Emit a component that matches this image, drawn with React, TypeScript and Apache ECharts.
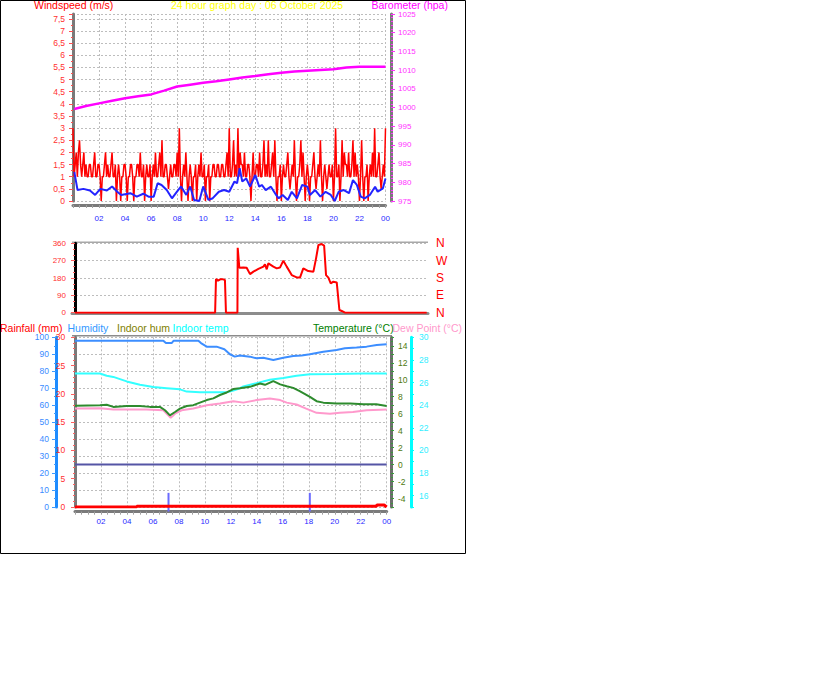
import React, { useEffect, useRef } from 'react';
import * as echarts from 'echarts';

const FONT = '"Liberation Sans", Arial, sans-serif';
const DOT = { color: '#bdbdbd', type: [2, 2] as number[], width: 1 };

// wind gust (m/s), 5 minute steps from 00:00
const GUST = [
  3, 1, 1.5, 2, 1, 2, 2.5, 1.5, 1, 1.5, 2, 1,
  1.5, 1, 1, 1.5, 1.5, 1, 1, 1.5, 2, 1, 1, 1.5,
  1.5, 1, 0, 1, 1, 1.5, 2, 1, 1.5, 1, 1, 1.5,
  2, 1, 1, 1.5, 0, 1, 1.5, 1, 0, 1, 1, 1.5,
  1.5, 1, 0, 1, 1, 1.5, 1.5, 1, 0, 1, 1, 1.5,
  1.5, 1, 2, 1, 1, 1.5, 0, 1, 1.5, 1, 1, 1.5,
  0, 1, 1.5, 1, 2, 1, 1, 1.5, 2, 1, 2.5, 1,
  1, 1.5, 1.5, 1, 0.5, 1, 1.5, 1, 1, 1.5, 1.5, 1,
  2, 1, 3, 1, 0, 1, 1.5, 1, 2, 1, 0, 1,
  1.5, 1, 0, 1, 1, 1.5, 0, 1, 1.5, 1, 2, 1,
  1, 1.5, 0, 1, 1, 1.5, 0, 1, 1, 1.5, 1.5, 1,
  1, 1.5, 1.5, 1, 1, 1.5, 1.5, 1, 1, 1.5, 2, 1,
  3, 1, 1, 1.5, 2.5, 1, 1.5, 1, 3, 1, 2, 1.5,
  1.5, 1, 2, 1, 1, 1.5, 1.5, 1, 0, 1, 2, 1,
  1, 1.5, 1.5, 1, 2, 1, 1, 1.5, 2.5, 1, 1.5, 1,
  2.5, 1, 1, 1.5, 2, 1, 2.5, 1, 0, 1, 1, 1.5,
  0, 1, 1.5, 1, 1, 1.5, 2, 1, 0.5, 1, 1.5, 1,
  2.5, 1, 0, 1, 1, 1.5, 2.5, 1, 2, 1, 0, 1,
  1.5, 1, 0, 1, 1, 1.5, 2, 1, 0.5, 1, 1.5, 1,
  2.5, 1, 0, 1, 1.5, 1, 0.5, 1, 1.5, 1, 1, 1.5,
  0, 1, 3, 1, 1, 1.5, 0, 1, 2.5, 1, 2, 1.5,
  1.5, 1, 2, 1, 1, 1.5, 2.5, 1, 2, 1, 1.5, 1,
  0, 1, 2.5, 1, 0, 1, 1, 1.5, 0, 1, 1.5, 1,
  2, 1, 3, 1, 1, 1.5, 2, 1, 0.5, 1, 1.5, 1,
  3,
];

// average wind (m/s)
const AVG_HOURS = [
  0.1, 0.35, 0.8, 1.3, 1.7, 2.1, 2.6, 3.0, 3.4, 3.7, 4.4, 4.9, 5.4, 5.8, 6.2, 6.5, 6.8, 7.2, 7.6, 7.9,
  8.3, 8.7, 9.0, 9.3, 9.7, 10.0, 10.4, 10.7, 11.2, 11.6, 12.0, 12.4, 12.6, 12.8, 13.0, 13.3, 13.6, 14.0,
  14.3, 14.5, 14.8, 15.2, 15.6, 15.8, 16.1, 16.5, 16.8, 17.2, 17.6, 18.0, 18.2, 18.6, 19.0, 19.4, 19.8,
  20.1, 20.4, 20.8, 21.2, 21.5, 21.8, 22.1, 22.4, 22.8, 23.2, 23.4, 23.8, 24.0,
];
const AVG_SPEED = [
  1.2, 0.45, 0.5, 0.43, 0.25, 0.5, 0.43, 0.6, 0.38, 0.25, 0.32, 0.18, 0.3, 0.18, 0.18, 0.73, 0.66, 0.45, 0.11, 0.32,
  0.6, 0.25, 0.6, 0.04, 0, 0.6, 0.05, 0.1, 0.38, 0.45, 0.38, 0.8, 0.73, 1.35, 0.8, 0.93, 0.59, 1.07,
  0.59, 0.66, 0.45, 0.59, 0.25, 0.11, 0.25, 0.04, 0.38, 0.11, 0.66, 0.59, 0.25, 0.45, 0.18, 0.38, 0.25,
  0, 0.38, 0.45, 0.32, 0.86, 0.66, 0.18, 0.11, 0.25, 0.59, 0.38, 0.52, 0.93,
];

// barometer (hpa)
const BARO_HOURS = [0.1, 1, 2, 3, 4, 5, 6, 7, 8, 9, 10, 11, 12, 13, 14, 15, 16, 17, 18, 19, 20, 21, 22, 23, 24];
const BARO_HPA = [
  999.6, 1000.4, 1001.1, 1001.8, 1002.5, 1003.0, 1003.5, 1004.5, 1005.6, 1006.1, 1006.6, 1007.0, 1007.5,
  1008.0, 1008.4, 1008.9, 1009.3, 1009.6, 1009.8, 1010.0, 1010.2, 1010.7, 1010.9, 1010.9, 1010.9,
];

// wind direction (deg)
const DIR_HOURS = [
  0, 9.55, 9.61, 9.75, 9.9, 10.1, 10.22, 10.29, 11.07, 11.09, 11.2, 11.47, 11.7, 11.93, 12.16, 12.5, 12.84,
  12.95, 13.07, 13.18, 13.52, 13.75, 13.97, 14.2, 14.43, 14.77, 15.11, 15.34, 15.56, 15.9, 16.25, 16.43,
  16.59, 16.82, 16.98, 17.11, 17.27, 17.43, 17.61, 17.84, 18.02, 18.18, 18.4, 23.97,
];
const DIR_DEG = [
  0, 0, 175, 166, 173, 173, 170, 0, 0, 337, 233, 235, 233, 200, 213, 227, 239,
  251, 225, 256, 239, 230, 234, 270, 239, 195, 183, 183, 230, 216, 213, 282,
  351, 356, 348, 195, 182, 152, 161, 157, 14, 9, 0, 0,
];
const DIR_NAMES = ['N', 'E', 'S', 'W', 'N'];

// humidity (%)
const HUM_HOURS = [
  0, 6.8, 7.0, 7.44, 7.6, 9.5, 9.7, 10.14, 10.9, 11.5, 11.93, 12.3, 12.7, 13.47, 13.99, 14.5, 15.27,
  16.04, 16.8, 17.45, 18.09, 19.12, 20.14, 20.78, 21.68, 22.45, 23.23, 24,
];
const HUM_PCT = [
  98, 98, 96.6, 96.6, 98, 98, 96.6, 94.5, 94.5, 93, 90, 88.6, 89.3, 88.6, 87.6, 88, 86.6,
  88, 89, 89.3, 90, 91.5, 92.5, 93.5, 94, 94.5, 95.5, 95.9,
];

// indoor temp (°C)
const INT_HOURS = [
  0, 1.92, 2.44, 2.95, 3.98, 5.0, 6.03, 7.06, 8.08, 8.6, 9.62, 11.68, 12.19, 12.7, 12.96, 13.99, 15.0,
  16.04, 17.06, 18.09, 20, 22.2, 24,
];
const INT_C = [
  26.8, 26.8, 26.6, 26.5, 26.1, 25.8, 25.6, 25.5, 25.4, 25.2, 25.15, 25.15, 25.3, 25.5, 25.65, 25.95, 26.24,
  26.4, 26.6, 26.74, 26.76, 26.8, 26.8,
];

// temperature (°C)
const TEMP_HOURS = [
  0, 1.92, 2.44, 2.95, 3.98, 5.0, 5.77, 6.54, 6.93, 7.31, 7.7, 8.08, 8.6, 9.11, 9.62, 10.14, 10.65, 11.16,
  11.68, 12.19, 12.7, 13.47, 14.25, 14.63, 15.27, 15.8, 16.3, 16.8, 17.3, 18.09, 18.6, 19.12, 20.14, 21.2,
  22.2, 23.2, 24,
];
const TEMP_C = [
  6.92, 7.0, 7.05, 6.8, 6.9, 6.9, 6.8, 6.8, 6.4, 5.8, 6.2, 6.6, 6.9, 7.0, 7.3, 7.6, 7.8, 8.2,
  8.5, 8.9, 9.0, 9.16, 9.56, 9.4, 9.84, 9.45, 9.24, 9.04, 8.65, 7.98, 7.47, 7.3, 7.2, 7.2,
  7.1, 7.1, 6.9,
];

// dew point (°C)
const DEW_HOURS = [
  0, 1.92, 2.95, 3.98, 5.5, 6.8, 7.18, 7.37, 7.7, 8.21, 9.11, 10.14, 11.16, 12.19, 12.96, 13.99, 15.0,
  15.8, 16.3, 17.06, 17.8, 18.6, 19.63, 20.4, 21.4, 22.45, 24,
];
const DEW_C = [
  6.6, 6.65, 6.5, 6.5, 6.5, 6.4, 5.8, 5.5, 6.0, 6.4, 6.6, 7.0, 7.2, 7.47, 7.3, 7.6, 7.8,
  7.6, 7.3, 7.08, 6.6, 6.1, 6.0, 6.1, 6.2, 6.4, 6.5,
];

// rainfall (mm)
const RAIN_HOURS = [0, 4.75, 4.76, 23.2, 23.25, 23.8, 24];
const RAIN_MM = [0, 0, 0.15, 0.15, 0.35, 0.35, 0];

// sunrise / sunset markers
const SUN_HOURS = [7.2, 18.08];

const pairs = (xs: number[], ys: number[]) => xs.map((x, i) => [x, ys[i]]);
const hourLabel = (v: number) => String(v % 24).padStart(2, '0');
const comma = (v: number) => String(v).replace('.', ',');
const plain = (v: number) => String(v);
const evenOnly = (v: number) => (v % 2 === 0 ? String(v) : '');

const tick = (color: string, length = 3) => ({ show: true, length, lineStyle: { color } });
const label = (color: string, margin: number, extra: any = {}) => ({
  color,
  fontSize: 8.5,
  fontFamily: FONT,
  margin,
  formatter: plain,
  ...extra,
});

const timeAxis = (gridIndex: number, offset: number, margin: number) => ({
  gridIndex,
  type: 'value',
  min: 0,
  max: 24,
  interval: 2,
  offset,
  axisLine: { show: true, onZero: false, lineStyle: { color: '#7a7a7a', width: 3 } },
  axisTick: tick('#a0a0a0'),
  minorTick: { show: true, splitNumber: 4, length: 3, lineStyle: { color: '#a0a0a0' } },
  axisLabel: label('#2a2aff', margin, { fontSize: 8, showMinLabel: false, formatter: hourLabel }),
  splitLine: { show: true, lineStyle: DOT },
});

const line = (x: number, y: number, data: number[][], color: string, width: number, extra: any = {}) => ({
  type: 'line',
  xAxisIndex: x,
  yAxisIndex: y,
  data,
  symbol: 'none',
  silent: true,
  lineStyle: { color, width },
  ...extra,
});

const text = (x: number, y: number, t: string, fill: string, fontSize = 10.5) => ({
  type: 'text',
  x,
  y,
  z: 10,
  style: { text: t, fill, fontSize, fontFamily: FONT, verticalAlign: 'middle' },
});

const option: any = {
  animation: false,
  backgroundColor: '#ffffff',
  grid: [
    { left: 73, top: 14, width: 312.5, height: 187 },
    { left: 72, top: 243.3, width: 356, height: 69.4 },
    { left: 75, top: 337.3, width: 311.7, height: 169.7 },
  ],
  xAxis: [
    timeAxis(0, 4, 9),
    {
      gridIndex: 1,
      type: 'value',
      min: -0.2045,
      max: 24.06,
      offset: 1,
      axisLine: { show: true, onZero: false, lineStyle: { color: '#8c8c8c', width: 3 } },
      axisTick: { show: false },
      axisLabel: { show: false },
      splitLine: { show: false },
    },
    timeAxis(2, 4.7, 6),
  ],
  yAxis: [
    {
      gridIndex: 0,
      type: 'value',
      position: 'left',
      min: 0,
      max: 7.7,
      interval: 0.5,
      offset: 2,
      axisLine: { show: true, lineStyle: { color: '#7a7a7a', width: 3 } },
      axisTick: tick('#ff5050', 4),
      minorTick: { show: true, splitNumber: 2, length: 2, lineStyle: { color: '#ff5050' } },
      axisLabel: label('#ff3030', 6, { showMaxLabel: false, formatter: comma }),
      splitLine: { show: true, lineStyle: DOT },
    },
    {
      gridIndex: 0,
      type: 'value',
      position: 'right',
      min: 975,
      max: 1025,
      interval: 5,
      offset: 5.5,
      axisLine: { show: true, lineStyle: { color: '#7a7a7a', width: 3 } },
      axisTick: tick('#ff33ff', 4),
      minorTick: { show: true, splitNumber: 5, length: 2, lineStyle: { color: '#ff33ff' } },
      axisLabel: label('#ff33ff', 7, { fontSize: 8 }),
      splitLine: { show: false },
    },
    {
      gridIndex: 1,
      type: 'value',
      position: 'left',
      min: 0,
      max: 360,
      interval: 90,
      axisLine: { show: true, lineStyle: { color: '#000000', width: 3 } },
      axisTick: tick('#ff6060', 4),
      minorTick: { show: true, splitNumber: 3, length: 2, lineStyle: { color: '#ff6060' } },
      axisLabel: label('#ff3030', 6, { fontSize: 8 }),
      splitLine: { show: true, lineStyle: DOT },
    },
    {
      gridIndex: 1,
      type: 'value',
      position: 'right',
      min: 0,
      max: 360,
      interval: 90,
      axisLine: { show: false },
      axisTick: { show: false },
      axisLabel: label('#ff0000', 8, { fontSize: 12, formatter: (v: number) => DIR_NAMES[v / 90] }),
      splitLine: { show: false },
    },
    {
      gridIndex: 2,
      type: 'value',
      position: 'left',
      min: 0,
      max: 30,
      interval: 5,
      offset: 2.3,
      axisLine: { show: true, lineStyle: { color: '#7a7a7a', width: 3 } },
      axisTick: tick('#ff6060', 4),
      minorTick: { show: true, splitNumber: 5, length: 2, lineStyle: { color: '#ff6060' } },
      axisLabel: label('#ff3030', 7.5),
      splitLine: { show: false },
    },
    {
      gridIndex: 2,
      type: 'value',
      position: 'left',
      min: 0,
      max: 100,
      interval: 10,
      offset: 19,
      axisLine: { show: true, lineStyle: { color: '#1e8cff', width: 3 } },
      axisTick: tick('#3d9bff', 4),
      minorTick: { show: true, splitNumber: 2, length: 2, lineStyle: { color: '#3d9bff' } },
      axisLabel: label('#3b8bff', 7),
      splitLine: { show: true, lineStyle: DOT },
    },
    {
      gridIndex: 2,
      type: 'value',
      position: 'right',
      min: -5,
      max: 15,
      interval: 1,
      offset: 4.3,
      axisLine: { show: true, lineStyle: { color: '#6e6e6e', width: 3 } },
      axisTick: tick('#3a9a3a', 3),
      minorTick: { show: true, splitNumber: 2, length: 2, lineStyle: { color: '#3a9a3a' } },
      axisLabel: label('#4f7a10', 7, { formatter: evenOnly }),
      splitLine: { show: false },
    },
    {
      gridIndex: 2,
      type: 'value',
      position: 'right',
      min: 15,
      max: 30,
      interval: 1,
      offset: 24.3,
      axisLine: { show: true, lineStyle: { color: '#00ffff', width: 3 } },
      axisTick: tick('#00ffff', 3),
      axisLabel: label('#33eeff', 8, { formatter: evenOnly }),
      splitLine: { show: false },
    },
  ],
  series: [
    line(0, 0, GUST.map((v, i) => [i / 12, v]), '#ff0000', 1.5),
    line(0, 0, pairs(AVG_HOURS, AVG_SPEED), '#2323ff', 2),
    line(0, 1, pairs(BARO_HOURS, BARO_HPA), '#ff00ff', 2.5),
    line(1, 2, pairs(DIR_HOURS, DIR_DEG), '#ff0000', 2),
    line(2, 6, [[0, 0], [24, 0]], '#5555a5', 2),
    ...SUN_HOURS.map((h) => line(2, 4, [[h, -0.8], [h, 2.5]], '#6a6aff', 2, { clip: false })),
    line(2, 5, pairs(HUM_HOURS, HUM_PCT), '#3d8eff', 2),
    line(2, 7, pairs(INT_HOURS, INT_C), '#33ffff', 2),
    line(2, 6, pairs(DEW_HOURS, DEW_C), '#ff99cc', 2),
    line(2, 6, pairs(TEMP_HOURS, TEMP_C), '#2e8b2e', 2),
    line(2, 4, pairs(RAIN_HOURS, RAIN_MM), '#ff0000', 3),
  ],
  graphic: [
    {
      type: 'rect',
      shape: { x: 0.5, y: 0.5, width: 465, height: 553 },
      style: { fill: 'none', stroke: '#000000', lineWidth: 1 },
    },
    { type: 'line', shape: { x1: 72, y1: 242.3, x2: 428, y2: 242.3 }, style: { stroke: '#a8a8a8', lineWidth: 1.5 } },
    { type: 'line', shape: { x1: 72, y1: 335.7, x2: 392, y2: 335.7 }, style: { stroke: '#8c8c8c', lineWidth: 1.5 } },
    text(34, 5, 'Windspeed (m/s)', '#ff0000'),
    text(171, 5, '24 hour graph day : 06 October 2025', '#ffff00'),
    text(371.5, 5, 'Barometer (hpa)', '#ff00ff'),
    text(0, 327.5, 'Rainfall (mm)', '#ff0000'),
    text(67.5, 327.5, 'Humidity', '#3399ff'),
    text(117, 327.5, 'Indoor hum', '#808000'),
    text(172.5, 327.5, 'Indoor temp', '#00ffff'),
    text(313, 327.5, 'Temperature (°C)', '#008000'),
    text(392.5, 327.5, 'Dew Point (°C)', '#ff99cc'),
  ],
};

const App: React.FC = () => {
  const divEL = useRef<HTMLDivElement>(null);

  useEffect(() => {
    const instance = echarts.init(divEL.current as HTMLDivElement, null, { renderer: 'svg' });
    instance.setOption(option);
    return () => {
      instance.dispose();
    };
  }, []);

  return (
    <div
      ref={divEL}
      style={{ position: 'absolute', left: 0, top: 0, width: 816, height: 683, background: '#ffffff' }}
    ></div>
  );
};

export default App;
